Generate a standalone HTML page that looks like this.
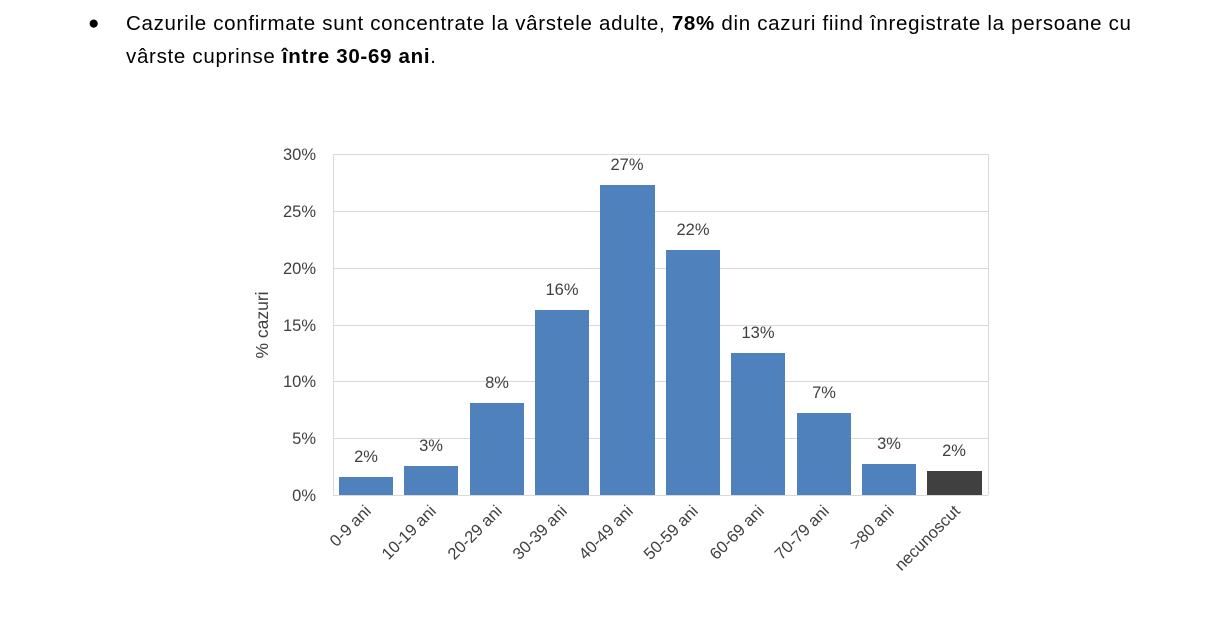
<!DOCTYPE html>
<html><head><meta charset="utf-8"><style>
body{margin:0;background:#fff;width:1209px;height:633px;overflow:hidden;font-family:"Liberation Sans",sans-serif;}
.t{position:absolute;left:126px;top:7px;font-size:20.5px;letter-spacing:0.7px;color:#000;line-height:33px;width:1080px;white-space:nowrap}
.b{position:absolute;left:88px;top:8px;font-size:19px;line-height:32px}
</style></head><body>
<div class="b">●</div>
<div class="t">Cazurile confirmate sunt concentrate la vârstele adulte, <b>78%</b> din cazuri fiind înregistrate la persoane cu<br>vârste cuprinse <b>între 30-69 ani</b>.</div>
<svg width="1209" height="633" style="position:absolute;left:0;top:0" font-family="Liberation Sans, sans-serif">
<g stroke="#d9d9d9" stroke-width="1">
<line x1="333" y1="154.5" x2="988" y2="154.5"/>
<line x1="333" y1="211.5" x2="988" y2="211.5"/>
<line x1="333" y1="268.5" x2="988" y2="268.5"/>
<line x1="333" y1="325.5" x2="988" y2="325.5"/>
<line x1="333" y1="381.5" x2="988" y2="381.5"/>
<line x1="333" y1="438.5" x2="988" y2="438.5"/>
<line x1="988.5" y1="154" x2="988.5" y2="495"/>
<line x1="333.5" y1="154" x2="333.5" y2="495"/>
<line x1="333" y1="495.5" x2="988" y2="495.5"/>
</g>
<g fill="#404040" font-size="16.5" text-anchor="end">
<text x="316" y="160">30%</text><text x="316" y="217">25%</text><text x="316" y="274">20%</text>
<text x="316" y="331">15%</text><text x="316" y="387">10%</text><text x="316" y="444">5%</text><text x="316" y="501">0%</text>
</g>
<text transform="translate(268,325) rotate(-90)" text-anchor="middle" font-size="17.5" fill="#404040">% cazuri</text>
<g fill="#4f81bd">
<rect x="339" y="477" width="54" height="18"/>
<rect x="404" y="466" width="54" height="29"/>
<rect x="470" y="403" width="54" height="92"/>
<rect x="535" y="310" width="54" height="185"/>
<rect x="600" y="185" width="55" height="310"/>
<rect x="666" y="250" width="54" height="245"/>
<rect x="731" y="353" width="54" height="142"/>
<rect x="797" y="413" width="54" height="82"/>
<rect x="862" y="464" width="54" height="31"/>
</g>
<rect x="927" y="471" width="55" height="24" fill="#404040"/>
<g fill="#404040" font-size="16.5" text-anchor="middle">
<text x="366" y="462">2%</text><text x="431" y="451">3%</text><text x="497" y="388">8%</text>
<text x="562" y="295">16%</text><text x="627" y="170">27%</text><text x="693" y="235">22%</text>
<text x="758" y="338">13%</text><text x="824" y="398">7%</text><text x="889" y="449">3%</text><text x="954" y="456">2%</text>
</g>
<g fill="#404040" font-size="16.5" text-anchor="end">
<text transform="translate(372,512) rotate(-45)">0-9 ani</text>
<text transform="translate(437,512) rotate(-45)">10-19 ani</text>
<text transform="translate(503,512) rotate(-45)">20-29 ani</text>
<text transform="translate(568,512) rotate(-45)">30-39 ani</text>
<text transform="translate(634,512) rotate(-45)">40-49 ani</text>
<text transform="translate(699,512) rotate(-45)">50-59 ani</text>
<text transform="translate(765,512) rotate(-45)">60-69 ani</text>
<text transform="translate(830,512) rotate(-45)">70-79 ani</text>
<text transform="translate(895,512) rotate(-45)">&gt;80 ani</text>
<text transform="translate(961,512) rotate(-45)">necunoscut</text>
</g>
</svg>
</body></html>
